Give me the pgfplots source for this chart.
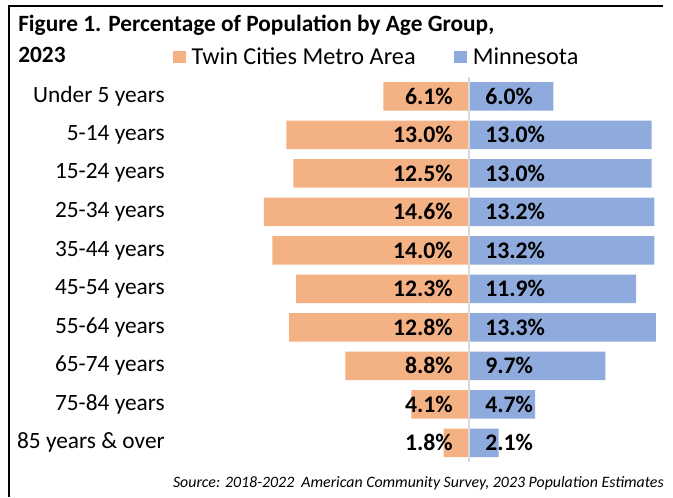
\documentclass[border=0pt]{standalone}
\usepackage{pgfplots}
\pgfplotsset{compat=1.18}
\usepackage{pgfplotstable}
\usepackage{fontspec}
\setmainfont{Carlito}
\definecolor{tcorange}{HTML}{F4B183}
\definecolor{mnblue}{HTML}{8FAADC}
\definecolor{midline}{HTML}{D9D9D9}
\newcommand{\fs}{\fontsize{17.5}{21}\selectfont}
\pgfplotstableread{
idx tc mn
0 6.1 6.0
1 13.0 13.0
2 12.5 13.0
3 14.6 13.2
4 14.0 13.2
5 12.3 11.9
6 12.8 13.3
7 8.8 9.7
8 4.1 4.7
9 1.8 2.1
}\agedata
\begin{document}
\begin{tikzpicture}
\begin{scope}[x=0.75pt,y=-0.75pt]
\path[use as bounding box] (0,0) rectangle (673,497);
\draw[line width=1.6pt] (9.3,497) -- (9.3,5.6) -- (663,5.6);
\node[anchor=base west, inner sep=0pt, font=\fs\bfseries] at (18,31) {Figure 1. Percentage of Population by Age Group,};
\node[anchor=base west, inner sep=0pt, font=\fs\bfseries] at (18,62) {2023};
\node[anchor=base east, inner sep=0pt, font=\fontsize{11.9}{14}\selectfont\itshape] at (664,487) {Source: 2018-2022~ American Community Survey, 2023 Population Estimates};
\end{scope}
\begin{axis}[
  at={(193.69pt,-346.54pt)}, anchor=south west,
  scale only axis, width=305.59pt, height=288.75pt,
  xmin=-15, xmax=14, ymin=-0.5, ymax=9.5,
  y dir=reverse,
  clip=false,
  axis line style={draw=none}, tick style={draw=none},
  xtick=\empty,
  ytick={0,...,9},
  yticklabels={Under 5 years,5-14 years,15-24 years,25-34 years,35-44 years,45-54 years,55-64 years,65-74 years,75-84 years,85 years \& over},
  yticklabel style={font=\fs, anchor=east, inner sep=0pt, xshift=-69.94pt},
  /pgf/number format/assume math mode=true,
  legend columns=2,
  legend style={draw=none, fill=none, inner sep=0pt, outer sep=0pt, font=\fontsize{18.2}{21}\selectfont,
    at={(-0.2092,1.0520)}, anchor=west,
    nodes={inner sep=0pt},
    /tikz/every odd column/.append style={column sep=4.5pt},
    /tikz/every even column/.append style={column sep=29pt}},
  legend image code/.code={\fill[#1] (0pt,-4.6pt) rectangle (9.4pt,4.6pt);},
]
\addplot[xbar, bar width=21.4pt, bar shift=0pt, fill=tcorange, draw=none] table[x expr=-\thisrow{tc}, y=idx] {\agedata};
\addlegendentry{Twin Cities Metro Area}
\addplot[xbar, bar width=21.4pt, bar shift=0pt, fill=mnblue, draw=none] table[x=mn, y=idx] {\agedata};
\addlegendentry{Minnesota}
\draw[midline, line width=1.5pt] (axis cs:0,-0.5) -- (axis cs:0,9.5);
\addplot[draw=none, mark=none, forget plot,
  nodes near coords={\pgfmathprintnumber[fixed,zerofill,precision=1]{\pgfplotspointmeta}\%},
  every node near coord/.append style={anchor=east, xshift=-12pt, inner sep=0pt, font=\fontsize{17.8}{21}\selectfont\bfseries},
  point meta=\thisrow{tc}] table[x expr=0, y=idx] {\agedata};
\addplot[draw=none, mark=none, forget plot,
  nodes near coords={\pgfmathprintnumber[fixed,zerofill,precision=1]{\pgfplotspointmeta}\%},
  every node near coord/.append style={anchor=west, xshift=12pt, inner sep=0pt, font=\fontsize{17.8}{21}\selectfont\bfseries},
  point meta=\thisrow{mn}] table[x expr=0, y=idx] {\agedata};
\end{axis}
\end{tikzpicture}
\end{document}
